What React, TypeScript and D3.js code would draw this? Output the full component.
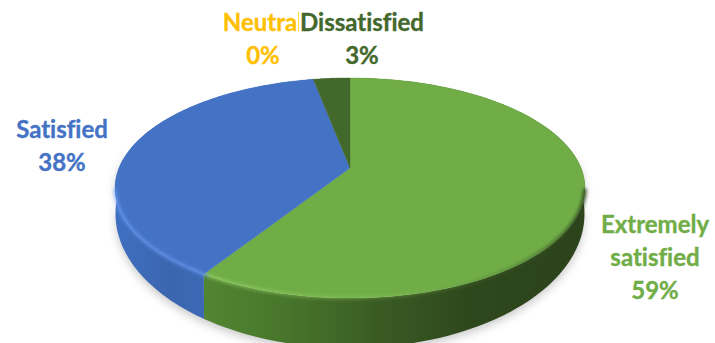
import React from "react";
import * as d3 from "d3";

const categories = ["Extremely satisfied", "Satisfied", "Neutral", "Dissatisfied"];
const values = [59, 38, 0, 3];
const topColors = ["#70ad47", "#4472c4", "#ffc000", "#43682b"];
const labelLines = [["Extremely", "satisfied", "59%"], ["Satisfied", "38%"], ["Neutral", "0%"], ["Dissatisfied", "3%"]];
const labelCentres = [[655, 225], [62, 130], [263, 23], [362, 23]];
const lineGap = 33;

const W = 715, H = 343;
const CX = 350, CY = 168, PK = -0.1818, PA = 106.4, PC = 231;
const BOTTOM = { cy: 214, rx: 234.5, ry: 134 };

const pie = d3.pie<number>().sort(null).value((d) => d).startAngle(0).endAngle(2 * Math.PI);
const arcs = pie(values);
const line = d3.line<[number, number]>();

// Perspective projection of the unit circle onto the top face
const project = (u: number, v: number): [number, number] => {
  const w = 1 + PK * v;
  return [CX + (PC * u) / w, CY + (PA * v) / w];
};
const topPoint = (a: number) => project(Math.sin(a), -Math.cos(a));
// Matching point on the bottom rim, with the same screen direction as the top rim point
const bottomPoint = (a: number): [number, number] => {
  const [x, y] = topPoint(a);
  const t = Math.atan2((y - 188) / 110, (x - CX) / 235);
  return [CX + BOTTOM.rx * Math.cos(t), BOTTOM.cy + BOTTOM.ry * Math.sin(t)];
};
const angleRange = (a0: number, a1: number) =>
  d3.range(0, 121).map((i) => a0 + ((a1 - a0) * i) / 120);

const slicePath = (a0: number, a1: number) =>
  line([project(0, 0), ...angleRange(a0, a1).map(topPoint)])! + "Z";
const sidePath = (a0: number, a1: number) => {
  const as = angleRange(a0, a1);
  return line([...as.map(topPoint), ...as.slice().reverse().map(bottomPoint)])! + "Z";
};
const rimPath = (a0: number, a1: number) => line(angleRange(a0, a1).map(topPoint))!;
const wholeTop = slicePath(0, 2 * Math.PI);
const wholeSide = sidePath(Math.PI * 0.45, Math.PI * 1.55);

const sideFill = ["url(#sideGreen)", "url(#sideBlue)", "#ffc000", "#43682b"];
const fontFamily = "Lato, 'Noto Sans', sans-serif";

export default function App() {
  return (
    <svg width={W} height={H} viewBox={`0 0 ${W} ${H}`} style={{ position: "absolute", left: 0, top: 0, background: "#fff" }}>
      <defs>
        <linearGradient id="sideGreen" gradientUnits="userSpaceOnUse" x1={205} x2={585} y1={0} y2={0}>
          <stop offset="0" stopColor="#528531" />
          <stop offset="0.22" stopColor="#47752b" />
          <stop offset="0.45" stopColor="#3a5c24" />
          <stop offset="0.7" stopColor="#2e471c" />
          <stop offset="1" stopColor="#2c431b" />
        </linearGradient>
        <linearGradient id="sideBlue" gradientUnits="userSpaceOnUse" x1={118} x2={208} y1={0} y2={0}>
          <stop offset="0" stopColor="#3f6fc0" />
          <stop offset="0.6" stopColor="#3b65ae" />
          <stop offset="1" stopColor="#3d6ab6" />
        </linearGradient>
        <linearGradient id="rimFade" gradientUnits="userSpaceOnUse" x1={120} x2={585} y1={0} y2={0}>
          <stop offset="0" stopColor="#6ea0ff" stopOpacity="0.5" />
          <stop offset="0.19" stopColor="#6ea0ff" stopOpacity="0.5" />
          <stop offset="0.19" stopColor="#9bd86c" stopOpacity="0.55" />
          <stop offset="0.55" stopColor="#9bd86c" stopOpacity="0.2" />
          <stop offset="0.85" stopColor="#3a5c24" stopOpacity="0.35" />
          <stop offset="1" stopColor="#2c431b" stopOpacity="0.8" />
        </linearGradient>
        <filter id="blur3" x="-20%" y="-20%" width="140%" height="140%"><feGaussianBlur stdDeviation="4" /></filter>
        <filter id="blur1" x="-10%" y="-10%" width="120%" height="120%"><feGaussianBlur stdDeviation="1.5" /></filter>
      </defs>

      <g transform="translate(0,4)" opacity={0.3} filter="url(#blur3)">
        <path d={wholeSide} fill="#555" />
      </g>

      {arcs.map((a, i) =>
        a.endAngle > a.startAngle ? <path key={categories[i]} d={sidePath(a.startAngle, a.endAngle)} fill={sideFill[i]} /> : null
      )}

      {arcs.map((a, i) =>
        a.endAngle > a.startAngle ? (
          <path key={categories[i]} d={slicePath(a.startAngle, a.endAngle)} fill={topColors[i]} stroke={topColors[i]} strokeWidth={0.4} />
        ) : null
      )}

      <path
        d={rimPath(Math.PI * 0.56, Math.PI * 1.44)}
        fill="none"
        stroke="url(#rimFade)"
        strokeWidth={4}
        filter="url(#blur1)"
      />

      {[2, 3, 0, 1].map((i) => (
        <g key={categories[i]}>
          {i === 3 ? <rect x={299} y={8} width={128} height={28} fill="#fff" /> : null}
          <text
            textAnchor="middle"
            fontFamily={fontFamily}
            fontWeight={700}
            fontSize={24}
            fill={topColors[i]}
            stroke={topColors[i]}
            strokeWidth={0.35}
            style={{ fontVariantLigatures: "none" }}
          >
            {labelLines[i].map((t, j) => (
              <tspan key={t} x={labelCentres[i][0]} y={labelCentres[i][1] + 8 + j * lineGap}>{t}</tspan>
            ))}
          </text>
        </g>
      ))}
    </svg>
  );
}
